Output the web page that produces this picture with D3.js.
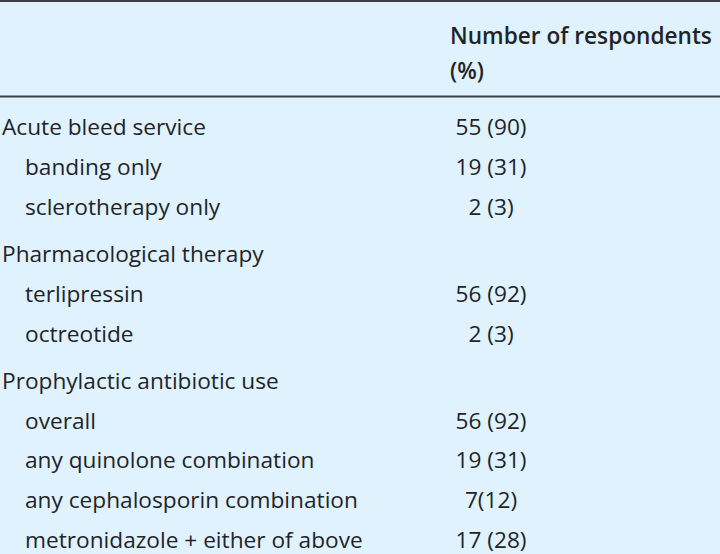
<!DOCTYPE html>
<html>
<head>
<meta charset="utf-8">
<script src="https://cdn.jsdelivr.net/npm/d3@7"></script>
<style>
html,body{margin:0;padding:0;background:#dff2fd;}
svg{display:block;}
</style>
</head>
<body>
<svg id="chart" width="720" height="554"></svg>
<script>
const header = ["Number of respondents", "(%)"];
const groups = ["Acute bleed service", "Pharmacological therapy", "Prophylactic antibiotic use"];
const groupValues = ["55 (90)", "", ""];
const subLabels = [
  ["banding only", "sclerotherapy only"],
  ["terlipressin", "octreotide"],
  ["overall", "any quinolone combination", "any cephalosporin combination", "metronidazole + either of above"]
];
const subValues = [
  ["19 (31)", "2 (3)"],
  ["56 (92)", "2 (3)"],
  ["56 (92)", "19 (31)", "7(12)", "17 (28)"]
];

const rows = [];
groups.forEach((g, gi) => {
  rows.push({label: g, value: groupValues[gi], level: 0, group: gi});
  subLabels[gi].forEach((s, si) => rows.push({label: s, value: subValues[gi][si], level: 1, group: gi}));
});

const W = 720, H = 554;
const svg = d3.select("#chart");
svg.append("rect").attr("width", W).attr("height", H).attr("fill", "#dff2fd");

const font = "'Open Sans', 'DejaVu Sans', sans-serif";
const color = "#1f2429";

// fit font size so the first label is ~204px wide (as in the reference)
const probe = svg.append("text").attr("font-family", font).attr("font-size", 20).text(groups[0]);
const fs = 20 * 204 / probe.node().getComputedTextLength();
probe.remove();
const probeH = svg.append("text").attr("font-family", font).attr("font-size", 20).attr("font-weight", 600).text(header[0]);
const fsH = 20 * 262 / probeH.node().getComputedTextLength();
probeH.remove();

const rowStep = 39.8, groupGap = 7.5, firstBase = 135;
const y = d3.scaleLinear().domain([0, 1]).range([firstBase, firstBase + rowStep]);
const baseY = (d, i) => y(i) + d.group * groupGap;
const x = d3.scaleOrdinal().domain([0, 1]).range([2, 25]);
const valX = 491;

svg.append("line").attr("x1", 0).attr("x2", W).attr("y1", 1).attr("y2", 1)
  .attr("stroke", "#3b4045").attr("stroke-width", 2);
svg.append("line").attr("x1", 0).attr("x2", W).attr("y1", 96.5).attr("y2", 96.5)
  .attr("stroke", "#3b4045").attr("stroke-width", 2);

svg.selectAll("text.hdr").data(header).join("text")
  .attr("class", "hdr")
  .attr("x", 450).attr("y", (d, i) => 44 + i * 35)
  .attr("font-family", font).attr("font-size", fsH).attr("font-weight", 600)
  .attr("fill", color).text(d => d);

svg.selectAll("text.lbl").data(rows).join("text")
  .attr("class", "lbl")
  .attr("x", d => x(d.level)).attr("y", baseY)
  .attr("font-family", font).attr("font-size", fs)
  .attr("fill", color).text(d => d.label);

svg.selectAll("text.val").data(rows.filter(r => r.value)).join("text")
  .attr("class", "val")
  .attr("x", valX).attr("y", d => baseY(d, rows.indexOf(d)))
  .attr("text-anchor", "middle")
  .attr("font-family", font).attr("font-size", fs)
  .attr("fill", color).text(d => d.value);
</script>
</body>
</html>
